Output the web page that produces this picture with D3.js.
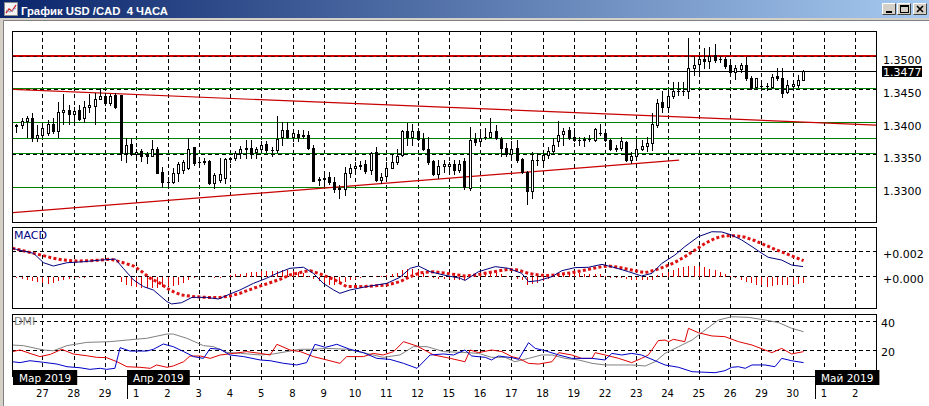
<!DOCTYPE html>
<html>
<head>
<meta charset="utf-8">
<script src="https://cdn.jsdelivr.net/npm/d3@7"></script>
<style>
  body { margin: 0; background: #fff; overflow: hidden; }
  svg { display: block; }
  text { font-family: 'DejaVu Sans', sans-serif; }
</style>
</head>
<body>
<div id="chart"></div>
<script>
// 4-hour bars, bar 0 = 26 Mar 04:00
const opens = [
  1.3394, 1.3395, 1.3401, 1.3405, 1.3375, 1.3379, 1.3382, 1.3397, 1.3385, 1.3415,
  1.3417, 1.3411, 1.3417, 1.3405, 1.3422, 1.3424, 1.3434, 1.3439, 1.3428, 1.3440,
  1.3440, 1.3352, 1.3366, 1.3351, 1.3356, 1.3348, 1.3348, 1.3359, 1.3323, 1.3308,
  1.3308, 1.3322, 1.3326, 1.3329, 1.3361, 1.3338, 1.3339, 1.3340, 1.3306, 1.3311,
  1.3314, 1.3343, 1.3344, 1.3352, 1.3359, 1.3360, 1.3353, 1.3359, 1.3366, 1.3357,
  1.3357, 1.3376, 1.3388, 1.3377, 1.3381, 1.3378, 1.3380, 1.3360, 1.3311, 1.3313,
  1.3315, 1.3308, 1.3297, 1.3297, 1.3322, 1.3330, 1.3333, 1.3335, 1.3326, 1.3353,
  1.3311, 1.3317, 1.3330, 1.3339, 1.3349, 1.3386, 1.3376, 1.3385, 1.3373, 1.3358,
  1.3340, 1.3320, 1.3332, 1.3333, 1.3335, 1.3327, 1.3340, 1.3299, 1.3373, 1.3370,
  1.3377, 1.3377, 1.3385, 1.3374, 1.3360, 1.3351, 1.3360, 1.3343, 1.3324, 1.3295,
  1.3342, 1.3342, 1.3349, 1.3356, 1.3370, 1.3381, 1.3387, 1.3376, 1.3372, 1.3372,
  1.3373, 1.3372, 1.3383, 1.3382, 1.3372, 1.3359, 1.3360, 1.3369, 1.3342, 1.3348,
  1.3358, 1.3363, 1.3367, 1.3395, 1.3430, 1.3423, 1.3439, 1.3446, 1.3447, 1.3447,
  1.3482, 1.3488, 1.3496, 1.3493, 1.3502, 1.3495, 1.3496, 1.3486, 1.3476, 1.3480,
  1.3487, 1.3467, 1.3453, 1.3455, 1.3455, 1.3453, 1.3469, 1.3467, 1.3445, 1.3455,
  1.3456, 1.3464
]
const highs = [
  1.3397, 1.3406, 1.3408, 1.3413, 1.3395, 1.3393, 1.3402, 1.3405, 1.3430, 1.3442,
  1.3425, 1.3423, 1.3425, 1.3431, 1.3442, 1.3443, 1.3451, 1.3443, 1.3442, 1.3443,
  1.3441, 1.3375, 1.3375, 1.3359, 1.3358, 1.3354, 1.3372, 1.3362, 1.3331, 1.3316,
  1.3329, 1.3339, 1.3342, 1.3375, 1.3362, 1.3341, 1.3344, 1.3342, 1.3321, 1.3344,
  1.3345, 1.3346, 1.3355, 1.3363, 1.3372, 1.3372, 1.3362, 1.3370, 1.3370, 1.3362,
  1.3408, 1.3400, 1.3400, 1.3387, 1.3387, 1.3387, 1.3385, 1.3364, 1.3316, 1.3318,
  1.3324, 1.3316, 1.3304, 1.3331, 1.3335, 1.3338, 1.3340, 1.3342, 1.3354, 1.3362,
  1.3321, 1.3339, 1.3349, 1.3359, 1.3387, 1.3398, 1.3397, 1.3390, 1.3382, 1.3377,
  1.3342, 1.3342, 1.3342, 1.3339, 1.3342, 1.3342, 1.3344, 1.3392, 1.3382, 1.3385,
  1.3390, 1.3405, 1.3395, 1.3377, 1.3367, 1.3370, 1.3372, 1.3345, 1.3325, 1.3354,
  1.3352, 1.3354, 1.3362, 1.3375, 1.3401, 1.3391, 1.3392, 1.3391, 1.3376, 1.3376,
  1.3379, 1.3390, 1.3397, 1.3385, 1.3373, 1.3364, 1.3377, 1.3370, 1.3354, 1.3372,
  1.3372, 1.3377, 1.3413, 1.3435, 1.3446, 1.3448, 1.3460, 1.3461, 1.3461, 1.3527,
  1.3499, 1.3500, 1.3512, 1.3514, 1.3518, 1.3499, 1.3498, 1.3489, 1.3486, 1.3489,
  1.3499, 1.3469, 1.3467, 1.3457, 1.3459, 1.3472, 1.3481, 1.3481, 1.3463, 1.3461,
  1.3471, 1.3479
]
const lows = [
  1.3384, 1.3390, 1.3377, 1.3371, 1.3371, 1.3378, 1.3380, 1.3382, 1.3376, 1.3396,
  1.3396, 1.3400, 1.3402, 1.3400, 1.3415, 1.3396, 1.3434, 1.3425, 1.3426, 1.3421,
  1.3342, 1.3339, 1.3349, 1.3342, 1.3340, 1.3337, 1.3347, 1.3321, 1.3300, 1.3299,
  1.3306, 1.3309, 1.3321, 1.3328, 1.3334, 1.3336, 1.3336, 1.3305, 1.3299, 1.3308,
  1.3306, 1.3339, 1.3342, 1.3344, 1.3344, 1.3344, 1.3345, 1.3354, 1.3354, 1.3348,
  1.3354, 1.3364, 1.3375, 1.3370, 1.3370, 1.3375, 1.3359, 1.3309, 1.3304, 1.3305,
  1.3305, 1.3293, 1.3283, 1.3288, 1.3316, 1.3324, 1.3328, 1.3321, 1.3320, 1.3309,
  1.3306, 1.3309, 1.3329, 1.3335, 1.3347, 1.3365, 1.3364, 1.3372, 1.3357, 1.3336,
  1.3319, 1.3314, 1.3324, 1.3326, 1.3320, 1.3324, 1.3298, 1.3296, 1.3365, 1.3369,
  1.3374, 1.3376, 1.3374, 1.3347, 1.3347, 1.3347, 1.3339, 1.3321, 1.3274, 1.3283,
  1.3334, 1.3334, 1.3344, 1.3352, 1.3363, 1.3364, 1.3374, 1.3371, 1.3365, 1.3363,
  1.3371, 1.3371, 1.3380, 1.3370, 1.3357, 1.3355, 1.3357, 1.3340, 1.3337, 1.3347,
  1.3357, 1.3355, 1.3357, 1.3392, 1.3415, 1.3415, 1.3436, 1.3441, 1.3440, 1.3436,
  1.3471, 1.3476, 1.3481, 1.3481, 1.3491, 1.3491, 1.3481, 1.3474, 1.3465, 1.3476,
  1.3463, 1.3450, 1.3451, 1.3452, 1.3448, 1.3451, 1.3463, 1.3438, 1.3443, 1.3448,
  1.3453, 1.3463
]
const closes = [
  1.3395, 1.3401, 1.3405, 1.3375, 1.3379, 1.3390, 1.3396, 1.3385, 1.3415, 1.3417,
  1.3411, 1.3416, 1.3404, 1.3422, 1.3425, 1.3434, 1.3439, 1.3428, 1.3439, 1.3423,
  1.3352, 1.3365, 1.3350, 1.3354, 1.3348, 1.3349, 1.3358, 1.3322, 1.3308, 1.3308,
  1.3321, 1.3335, 1.3338, 1.3359, 1.3337, 1.3339, 1.3340, 1.3306, 1.3319, 1.3320,
  1.3343, 1.3344, 1.3352, 1.3359, 1.3360, 1.3352, 1.3358, 1.3364, 1.3357, 1.3357,
  1.3374, 1.3387, 1.3377, 1.3382, 1.3377, 1.3380, 1.3360, 1.3310, 1.3313, 1.3314,
  1.3308, 1.3297, 1.3299, 1.3321, 1.3330, 1.3333, 1.3334, 1.3325, 1.3352, 1.3311,
  1.3316, 1.3330, 1.3339, 1.3348, 1.3385, 1.3376, 1.3385, 1.3373, 1.3358, 1.3339,
  1.3320, 1.3332, 1.3336, 1.3335, 1.3326, 1.3335, 1.3300, 1.3372, 1.3369, 1.3375,
  1.3376, 1.3384, 1.3375, 1.3360, 1.3350, 1.3359, 1.3342, 1.3324, 1.3294, 1.3342,
  1.3342, 1.3349, 1.3355, 1.3364, 1.3380, 1.3386, 1.3375, 1.3372, 1.3372, 1.3373,
  1.3374, 1.3389, 1.3382, 1.3372, 1.3359, 1.3360, 1.3370, 1.3342, 1.3347, 1.3358,
  1.3363, 1.3367, 1.3396, 1.3429, 1.3423, 1.3439, 1.3446, 1.3447, 1.3447, 1.3482,
  1.3487, 1.3495, 1.3492, 1.3500, 1.3494, 1.3496, 1.3485, 1.3476, 1.3482, 1.3486,
  1.3466, 1.3451, 1.3466, 1.3455, 1.3455, 1.3468, 1.3466, 1.3443, 1.3456, 1.3457,
  1.3463, 1.3477
]

// [bar, value]
const macdMain = [
  [-0.8, 0.00220], [0, 0.00210], [3.3, 0.00179], [5.2, 0.00105], [7.1, 0.00079], [9.7, 0.00105],
  [12.9, 0.00113], [16.1, 0.00126], [19, 0.00134], [20.5, 0.00061], [22.5, -0.00032], [24.4, -0.00084],
  [26.3, -0.00111], [28.9, -0.00203], [29.8, -0.00221], [31.7, -0.00211], [33.7, -0.00169], [36.5, -0.00169],
  [38.8, -0.00182], [41, -0.00142], [42.9, -0.00111], [45.5, -0.00058], [48, -0.00018], [50, 0.00021],
  [52.5, 0.00061], [55.1, 0.00069], [57, 0.00021], [58.9, -0.00058], [60.9, -0.00111], [62.1, -0.00137],
  [64, -0.00111], [67.2, -0.00084], [71.1, -0.00058], [73.6, -0.00011], [75.6, 0.00061], [77.2, 0.00079],
  [79.4, 0.00034], [82, 0.00008], [85.2, -0.00018], [86.1, -0.00035], [88.7, 0.00034], [91.9, 0.00074],
  [94.4, 0.00061], [97, 0.00021], [98.3, -0.00045], [100.2, -0.00037], [102.8, -0.00005], [104.7, 0.00042],
  [107.2, 0.00066], [109.8, 0.00069], [112.4, 0.00092], [114.9, 0.00066], [117.5, 0.00034], [120, 0.00000],
  [122, 0.00021], [123.9, 0.00100], [126.4, 0.00166], [128.3, 0.00232], [130.9, 0.00311], [133.5, 0.00350],
  [135.4, 0.00348], [137.3, 0.00324], [139.2, 0.00285], [141.2, 0.00232], [143.1, 0.00179], [144.3, 0.00148],
  [146.9, 0.00126], [148.8, 0.00087], [151, 0.00074]
]
const macdSignal = [
  [-0.8, 0.00220], [1.3, 0.00200], [3.3, 0.00179], [5.2, 0.00161], [7.1, 0.00140], [9, 0.00126],
  [11.6, 0.00119], [14.1, 0.00121], [16.1, 0.00126], [18, 0.00134], [20.5, 0.00105], [22.5, 0.00079],
  [24.1, 0.00034], [25.7, -0.00018], [27.6, -0.00058], [28.9, -0.00097], [30.1, -0.00124], [31.7, -0.00150],
  [34, -0.00163], [36.5, -0.00169], [39.1, -0.00169], [41, -0.00158], [42.9, -0.00137], [45.5, -0.00097],
  [48, -0.00063], [50.6, -0.00026], [52.5, 0.00008], [55.1, 0.00034], [56.4, 0.00042], [58.3, 0.00016],
  [60.9, -0.00026], [63.4, -0.00084], [66, -0.00084], [68.5, -0.00079], [71.1, -0.00071], [73.6, -0.00045],
  [75.6, -0.00005], [77.5, 0.00026], [80.1, 0.00034], [82.6, 0.00021], [86.1, 0.00000], [88, 0.00008],
  [89.9, 0.00021], [92.5, 0.00040], [94.4, 0.00053], [96.3, 0.00047], [98.3, 0.00021], [100.2, 0.00008],
  [102.1, 0.00003], [104.1, 0.00013], [106.6, 0.00026], [109.2, 0.00047], [111.7, 0.00069], [113.6, 0.00079],
  [115.6, 0.00069], [118.1, 0.00047], [120.7, 0.00026], [122.6, 0.00047], [124.5, 0.00074], [126.4, 0.00108],
  [128.3, 0.00153], [130.3, 0.00206], [132.2, 0.00258], [134.1, 0.00298], [136, 0.00319], [138, 0.00319],
  [139.9, 0.00306], [141.8, 0.00279], [143.7, 0.00245], [145.6, 0.00211], [147.6, 0.00179], [149.5, 0.00148],
  [151.1, 0.00121]
]
// one value per bar
const macdHist = [
  -0.00010, -0.00015, -0.00020, -0.00030, -0.00040, -0.00050, -0.00055, -0.00050, -0.00035, -0.00020,
  -0.00015, -0.00010, -0.00005, -0.00005, -0.00003, 0, 0, 0, 0, 0,
  -0.00040, -0.00060, -0.00075, -0.00080, -0.00085, -0.00085, -0.00085, -0.00085, -0.00080, -0.00075,
  -0.00070, -0.00060, -0.00045, -0.00020, -0.00006, 0, 0, 0, -0.00005, -0.00005,
  0, 0.00016, 0.00022, 0.00025, 0.00035, 0.00038, 0.00040, 0.00045, 0.00045, 0.00048,
  0.00051, 0.00055, 0.00052, 0.00050, 0.00040, 0.00035, 0.00005, -0.00014, -0.00035, -0.00050,
  -0.00060, -0.00060, -0.00055, -0.00040, -0.00025, -0.00016, -0.00008, -0.00002, 0.00002, 0.00006,
  0.00011, 0.00013, 0.00025, 0.00035, 0.00055, 0.00065, 0.00062, 0.00056, 0.00030, 0.00005,
  -0.00009, -0.00013, -0.00014, -0.00017, -0.00023, -0.00027, -0.00025, 0, 0.00023, 0.00033,
  0.00037, 0.00037, 0.00034, 0.00022, 0.00008, -0.00001, -0.00018, -0.00025, -0.00066, -0.00056,
  -0.00045, -0.00031, -0.00013, 0.00006, 0.00023, 0.00035, 0.00036, 0.00037, 0.00031, 0.00024,
  0.00024, 0.00023, 0.00023, 0.00007, -0.00004, -0.00008, -0.00011, -0.00016, -0.00020, -0.00024,
  -0.00026, -0.00024, -0.00024, 0.00015, 0.00033, 0.00043, 0.00058, 0.00070, 0.00080, 0.00085,
  0.00087, 0.00090, 0.00077, 0.00067, 0.00052, 0.00037, 0.00024, 0.00008, -0.00006, -0.00024,
  -0.00040, -0.00051, -0.00060, -0.00067, -0.00080, -0.00070, -0.00065, -0.00060, -0.00065, -0.00062,
  -0.00056, -0.00047
]

const dmiAdx = [
  [-0.8, 23.6], [1.3, 23.2], [5.2, 20.2], [7.1, 19.7], [9.7, 23.2], [13.5, 25.4], [18, 25.9], [21.2, 27.0],
  [25, 28.2], [28.9, 31.1], [30.1, 31.1], [32.7, 28.2], [35.9, 23.2], [37.8, 22.5], [40.4, 18.6], [43, 17.9],
  [46.8, 16.8], [49.3, 17.5], [51.9, 19.1], [54.5, 20.7], [57, 20.7], [59.6, 21.3], [63.4, 20.7], [67.2, 17.9],
  [70.4, 15.2], [73.6, 16.8], [76.2, 22.5], [78.8, 22.5], [82, 19.1], [86.1, 18.5], [88.7, 17.9], [91.2, 15.2],
  [93.8, 15.2], [95.7, 12.2], [98.3, 14.5], [100.8, 16.8], [102.8, 16.8], [105.3, 14.5], [107.9, 13.4],
  [110.5, 11.1], [113, 10.0], [115.6, 10.0], [118.1, 10.0], [120.7, 9.3], [122.6, 12.2], [124.5, 17.9],
  [127.1, 22.5], [129.7, 27.0], [132.2, 33.9], [134.8, 40.7], [137.3, 42.9], [140.5, 42.5], [143.7, 40.7],
  [146.3, 38.9], [148.8, 35.0], [151.1, 32.7]
]
const dmiPlus = [
  [-0.8, 19.1], [0.7, 20.2], [2.6, 17.9], [4.5, 15.7], [6.5, 17.2], [8.7, 20.7], [10.9, 17.5], [13.5, 16.3],
  [15.4, 15.2], [17.3, 15.0], [19.3, 12.2], [21.2, 8.8], [23.7, 8.4], [25.7, 7.7], [26.9, 10.0], [28.9, 8.4],
  [30.1, 9.3], [32.1, 12.2], [33.3, 16.1], [35.3, 16.1], [37.2, 14.5], [39.1, 16.8], [41.7, 17.9], [44.2, 19.1],
  [46.8, 17.9], [48.7, 16.8], [50, 24.1], [52.5, 20.2], [54.5, 19.1], [57, 15.7], [59.6, 13.4], [62.1, 11.1],
  [63.4, 15.7], [66.6, 15.7], [68.5, 17.9], [70.4, 16.8], [72.4, 19.1], [74.3, 25.9], [76.9, 22.9], [80.1, 16.8],
  [83.3, 14.5], [86.1, 12.2], [87.1, 20.2], [88.7, 18.4], [91.2, 20.2], [93.2, 19.1], [95.1, 15.7], [96.4, 14.5],
  [98.3, 11.1], [100.2, 10.6], [102.8, 12.2], [104.1, 18.4], [106.6, 16.8], [108.5, 14.5], [110.5, 14.5],
  [111.1, 18.4], [113, 16.8], [115.6, 14.5], [118.1, 11.6], [120, 14.5], [121.3, 16.8], [123.2, 26.6],
  [124.5, 27.0], [125.2, 25.9], [126.1, 27.5], [128.3, 25.9], [129, 35.0], [130.9, 32.0], [133.5, 29.8],
  [136, 29.3], [138.6, 25.9], [141.2, 23.6], [143.7, 20.2], [145, 18.4], [146.9, 21.3], [148.8, 17.5], [151.1, 19.1]
]
const dmiMinus = [
  [-0.8, 12.2], [0.7, 11.6], [2.6, 12.9], [5.2, 11.8], [7.8, 10.6], [9.7, 8.8], [12.2, 8.1], [14.1, 7.0],
  [16.1, 7.7], [17.3, 7.0], [18.9, 7.7], [19.9, 21.8], [21.8, 19.5], [25, 19.5], [26.3, 20.7], [28.2, 24.3],
  [30.1, 22.5], [32.1, 19.1], [34, 15.7], [35.9, 14.5], [37.2, 21.3], [39.1, 20.7], [41, 16.8], [43.6, 15.7],
  [46.8, 13.4], [48.7, 12.9], [51.3, 11.1], [53.8, 10.0], [55.7, 11.6], [57.3, 24.1], [59.3, 22.0], [61.5, 24.1],
  [64, 20.7], [66.6, 18.4], [69.2, 14.5], [71.7, 13.8], [74.3, 11.1], [76.9, 7.7], [79.4, 16.8], [82, 17.5],
  [83.9, 16.8], [86.1, 20.2], [87.4, 16.1], [90, 15.2], [91.2, 13.4], [92.5, 16.1], [95.1, 15.0], [96.4, 13.8],
  [98.3, 25.2], [99.6, 21.3], [101.5, 19.7], [104.1, 16.8], [106.6, 14.5], [110.5, 14.5], [113, 13.4],
  [114.3, 17.9], [116.2, 16.8], [118.1, 17.9], [120, 16.8], [122, 13.8], [124.5, 10.0], [127.1, 8.4],
  [129.7, 5.4], [132.2, 5.0], [134.1, 4.7], [136, 6.1], [137.3, 8.4], [138.6, 8.8], [139.9, 7.7], [141.2, 10.0],
  [143.7, 10.0], [145.6, 8.8], [146.9, 14.5], [148.8, 12.9], [151.1, 11.6]
]

const priceTicks = [1.3500, 1.3450, 1.3400, 1.3350, 1.3300]
const macdTicks = [0.002, 0]
const dmiTicks = [40, 20]
const dayLabels = ['27', '28', '29', '1', '2', '3', '4', '5', '8', '9', '10', '11', '12', '15', '16', '17',
  '18', '19', '22', '23', '24', '25', '26', '29', '30', '1', '2']
const firstDayBar = 5
const barsPerDay = 6
const monthLabels = ['Мар 2019', 'Апр 2019', 'Май 2019']
const monthStartDay = [null, 3, 25]

const greenLevels = [1.3452, 1.3400, 1.3375, 1.3352, 1.3300]
const redLevel = 1.3500
const lastPrice = 1.3477
const upperTrend = [[-0.85, 1.34491], [165, 1.33948]]
const lowerTrend = [[-0.85, 1.32613], [127.2, 1.33415]]

function renderChart(selector) {
  const width = 929
  const height = 406
  const left = 12
  const right = 876
  const panels = {
    price: {top: 31, bottom: 222},
    macd: {top: 227, bottom: 308},
    dmi: {top: 314, bottom: 376}
  }
  const crisp = v => Math.round(v) + 0.5

  const svg = d3.select(selector).append('svg')
    .attr('width', width)
    .attr('height', height)

  const x = d3.scaleLinear().domain([-0.85, 165]).range([left, right])
  const yPrice = d3.scaleLinear().domain([1.32471, 1.35381]).range([panels.price.bottom, panels.price.top])
  const yMacd = d3.scaleLinear().domain([-0.00253, 0.003874]).range([panels.macd.bottom, panels.macd.top])
  const yDmi = d3.scaleLinear().domain([2.46, 44.78]).range([panels.dmi.bottom, panels.dmi.top])

  const defs = svg.append('defs')
  const grad = defs.append('linearGradient').attr('id', 'titleGrad')
  grad.append('stop').attr('offset', '0%').attr('stop-color', '#0a246a')
  grad.append('stop').attr('offset', '100%').attr('stop-color', '#a6caf0')
  Object.entries(panels).forEach(([key, p]) => {
    defs.append('clipPath').attr('id', 'clip-' + key)
      .append('rect')
      .attr('x', left + 1)
      .attr('y', p.top + 1)
      .attr('width', right - left - 1)
      .attr('height', p.bottom - p.top - 1)
  })

  // window frame
  svg.append('rect').attr('width', width).attr('height', height).attr('fill', '#fff')
  svg.append('rect').attr('width', width).attr('height', 18).attr('fill', 'url(#titleGrad)')
  svg.append('rect').attr('y', 18).attr('width', width).attr('height', 3).attr('fill', '#d4d0c8')
  svg.append('rect').attr('y', 18).attr('width', 3).attr('height', height - 18).attr('fill', '#d4d0c8')
  svg.append('path')
    .attr('d', 'M3.5,' + height + 'V20.5H' + width)
    .attr('fill', 'none')
    .attr('stroke', '#808080')

  const icon = svg.append('g').attr('transform', 'translate(4,2)')
  icon.append('rect').attr('x', 0.5).attr('y', 0.5).attr('width', 13).attr('height', 13)
    .attr('fill', '#f4f4f4').attr('stroke', '#8a8a8a')
  icon.append('polyline').attr('points', '2,11 5,7 8,9 12,3')
    .attr('fill', 'none').attr('stroke', '#d02020').attr('stroke-width', 1.3)
  icon.append('polyline').attr('points', '2,8 6,10 12,6')
    .attr('fill', 'none').attr('stroke', '#8aa0c8').attr('stroke-width', 1)

  svg.append('text')
    .attr('x', 21)
    .attr('y', 14.5)
    .attr('fill', '#fff')
    .style('font-family', "'Liberation Sans', Arial, sans-serif")
    .style('font-weight', 'bold')
    .style('font-size', '11.3px')
    .style('white-space', 'pre')
    .text('График USD /CAD  4 ЧАСА')

  const buttons = [882, 897, 913]
  buttons.forEach((bx, k) => {
    const b = svg.append('g').attr('transform', 'translate(' + bx + ',3)')
    b.append('rect').attr('width', 14).attr('height', 12).attr('fill', '#d4d0c8')
    b.append('path').attr('d', 'M0.5,11.5V0.5H13.5').attr('fill', 'none').attr('stroke', '#fff')
    b.append('path').attr('d', 'M0.5,11.5H13.5V0.5').attr('fill', 'none').attr('stroke', '#404040')
    if (k === 0) {
      b.append('rect').attr('x', 4).attr('y', 8).attr('width', 6).attr('height', 2).attr('fill', '#000')
    } else if (k === 1) {
      b.append('rect').attr('x', 3.5).attr('y', 2.5).attr('width', 8).attr('height', 7)
        .attr('fill', 'none').attr('stroke', '#000')
      b.append('rect').attr('x', 3).attr('y', 2).attr('width', 9).attr('height', 2).attr('fill', '#000')
    } else {
      b.append('path').attr('d', 'M4,3L10,9M10,3L4,9').attr('stroke', '#000').attr('stroke-width', 1.6)
    }
  })

  const dayBars = dayLabels.map((d, k) => firstDayBar + k * barsPerDay)

  // grid
  const grid = svg.append('g')
    .attr('stroke', '#000')
    .attr('stroke-dasharray', '4,3')
    .attr('shape-rendering', 'crispEdges')
  Object.values(panels).forEach(p => {
    grid.append('g').selectAll('line').data(dayBars).join('line')
      .attr('x1', d => crisp(x(d)))
      .attr('x2', d => crisp(x(d)))
      .attr('y1', p.top)
      .attr('y2', p.bottom)
  })
  const hGrid = [[priceTicks, yPrice], [macdTicks, yMacd], [dmiTicks, yDmi]]
  hGrid.forEach(([ticks, y]) => {
    grid.append('g').selectAll('line').data(ticks).join('line')
      .attr('x1', left)
      .attr('x2', right)
      .attr('y1', d => crisp(y(d)))
      .attr('y2', d => crisp(y(d)))
  })

  // price panel objects
  const pg = svg.append('g').attr('clip-path', 'url(#clip-price)')
  const redY = Math.round(yPrice(redLevel))
  pg.append('line')
    .attr('x1', left).attr('x2', right)
    .attr('y1', redY).attr('y2', redY)
    .attr('stroke', '#d00000')
    .attr('stroke-width', 2)
    .attr('shape-rendering', 'crispEdges')
  pg.append('line')
    .attr('x1', left).attr('x2', right)
    .attr('y1', redY + 0.5).attr('y2', redY + 0.5)
    .attr('stroke', '#5a0000')
    .attr('stroke-dasharray', '4,3')
    .attr('shape-rendering', 'crispEdges')
  pg.selectAll('line.green').data(greenLevels).join('line')
    .attr('class', 'green')
    .attr('x1', left).attr('x2', right)
    .attr('y1', d => crisp(yPrice(d))).attr('y2', d => crisp(yPrice(d)))
    .attr('stroke', '#008000')
    .attr('shape-rendering', 'crispEdges')
  pg.append('line')
    .attr('x1', left).attr('x2', right)
    .attr('y1', crisp(yPrice(lastPrice))).attr('y2', crisp(yPrice(lastPrice)))
    .attr('stroke', '#000')
    .attr('shape-rendering', 'crispEdges')
  const trendLine = d3.line().x(d => x(d[0])).y(d => yPrice(d[1]))
  pg.selectAll('path.trend').data([upperTrend, lowerTrend]).join('path')
    .attr('class', 'trend')
    .attr('d', trendLine)
    .attr('fill', 'none')
    .attr('stroke', '#c80000')
    .attr('stroke-width', 1.2)

  const candles = opens.map((o, i) => ({i: i, o: o, h: highs[i], l: lows[i], c: closes[i]}))
  const cg = pg.append('g').attr('shape-rendering', 'crispEdges')
  cg.selectAll('line.wick').data(candles).join('line')
    .attr('class', 'wick')
    .attr('x1', d => crisp(x(d.i)))
    .attr('x2', d => crisp(x(d.i)))
    .attr('y1', d => Math.round(yPrice(d.h)))
    .attr('y2', d => Math.round(yPrice(d.l)) + 1)
    .attr('stroke', '#000')
  candles.forEach(d => {
    const cx = Math.round(x(d.i))
    const top = Math.round(yPrice(Math.max(d.o, d.c)))
    const bot = Math.round(yPrice(Math.min(d.o, d.c)))
    if (bot - top < 1) {
      cg.append('line')
        .attr('x1', cx - 1).attr('x2', cx + 2)
        .attr('y1', top + 0.5).attr('y2', top + 0.5)
        .attr('stroke', '#000')
    } else if (d.c > d.o) {
      cg.append('rect')
        .attr('x', cx - 0.5).attr('y', top + 0.5)
        .attr('width', 2).attr('height', bot - top)
        .attr('fill', '#fff').attr('stroke', '#000')
    } else {
      cg.append('rect')
        .attr('x', cx - 1).attr('y', top)
        .attr('width', 3).attr('height', bot - top + 1)
        .attr('fill', '#000')
    }
  })

  // MACD panel
  const mg = svg.append('g').attr('clip-path', 'url(#clip-macd)')
  mg.append('g').attr('shape-rendering', 'crispEdges')
    .selectAll('line').data(macdHist).join('line')
    .attr('x1', (d, i) => crisp(x(i)))
    .attr('x2', (d, i) => crisp(x(i)))
    .attr('y1', crisp(yMacd(0)))
    .attr('y2', d => crisp(yMacd(d)))
    .attr('stroke', '#e00000')
  const macdLine = d3.line().x(d => x(d[0])).y(d => yMacd(d[1]))
  mg.append('path')
    .attr('d', macdLine(macdSignal))
    .attr('fill', 'none')
    .attr('stroke', '#dd1111')
    .attr('stroke-width', 3)
    .attr('stroke-dasharray', '3,2.3')
  mg.append('path')
    .attr('d', macdLine(macdMain))
    .attr('fill', 'none')
    .attr('stroke', '#000080')
    .attr('stroke-width', 1)

  // DMI panel
  const dg = svg.append('g').attr('clip-path', 'url(#clip-dmi)')
  const dmiLine = d3.line().x(d => x(d[0])).y(d => yDmi(d[1]))
  const dmiSeries = [[dmiAdx, '#808080'], [dmiPlus, '#e00000'], [dmiMinus, '#0000c8']]
  dmiSeries.forEach(([data, color]) => {
    dg.append('path')
      .attr('d', dmiLine(data))
      .attr('fill', 'none')
      .attr('stroke', color)
      .attr('stroke-width', 1)
  })

  // panel borders and bottom ticks
  Object.values(panels).forEach(p => {
    svg.append('rect')
      .attr('x', left + 0.5)
      .attr('y', p.top + 0.5)
      .attr('width', right - left)
      .attr('height', p.bottom - p.top)
      .attr('fill', 'none')
      .attr('stroke', '#000')
      .attr('shape-rendering', 'crispEdges')
  })
  svg.append('g').selectAll('line').data(dayBars).join('line')
    .attr('x1', d => crisp(x(d)))
    .attr('x2', d => crisp(x(d)))
    .attr('y1', panels.dmi.bottom)
    .attr('y2', panels.dmi.bottom + 4)
    .attr('stroke', '#000')
    .attr('shape-rendering', 'crispEdges')

  // right axis labels
  const axis = svg.append('g').style('font-size', '11px').attr('fill', '#000')
  axis.selectAll('text.p').data(priceTicks).join('text')
    .attr('class', 'p')
    .attr('x', 883)
    .attr('y', d => Math.round(yPrice(d)) + 8)
    .text(d => d3.format('.4f')(d))
  axis.append('rect')
    .attr('x', 882).attr('y', Math.round(yPrice(lastPrice)) - 5)
    .attr('width', 40).attr('height', 11)
    .attr('fill', '#000')
  axis.append('text')
    .attr('x', 883)
    .attr('y', Math.round(yPrice(lastPrice)) + 4.5)
    .attr('fill', '#fff')
    .text(d3.format('.4f')(lastPrice))
  axis.selectAll('text.m').data(macdTicks).join('text')
    .attr('class', 'm')
    .attr('x', 883)
    .attr('y', d => Math.round(yMacd(d)) + 7)
    .text(d => '+' + d.toFixed(3))
  axis.selectAll('text.d').data(dmiTicks).join('text')
    .attr('class', 'd')
    .attr('x', 881)
    .attr('y', d => Math.round(yDmi(d)) + 6)
    .text(d => d)

  svg.append('text')
    .attr('x', 14).attr('y', 238.5)
    .attr('fill', '#000080')
    .style('font-size', '11px')
    .text('MACD')
  svg.append('text')
    .attr('x', 14).attr('y', 325)
    .attr('fill', '#808080')
    .style('font-size', '11px')
    .text('DMI')

  // date row
  const dates = svg.append('g').style('font-size', '10px')
  dates.selectAll('text').data(dayLabels).join('text')
    .attr('x', (d, k) => x(dayBars[k]))
    .attr('y', 397)
    .attr('text-anchor', 'middle')
    .text(d => d)

  monthLabels.forEach((label, k) => {
    const day = monthStartDay[k]
    const bx = day === null ? left + 1 : Math.round(x(dayBars[day])) - 9
    const g = svg.append('g')
    const box = g.append('rect').attr('x', bx).attr('y', 370).attr('height', 15).attr('fill', '#000')
    const t = g.append('text')
      .attr('x', bx + 6)
      .attr('y', 381.5)
      .attr('fill', '#fff')
      .style('font-size', '10.5px')
      .text(label)
    box.attr('width', t.node().getComputedTextLength() + 12)
    if (day !== null) {
      g.append('line')
        .attr('x1', bx + 0.5).attr('x2', bx + 0.5)
        .attr('y1', 385).attr('y2', 399)
        .attr('stroke', '#000')
    }
  })
}

renderChart('#chart')
</script>
</body>
</html>
